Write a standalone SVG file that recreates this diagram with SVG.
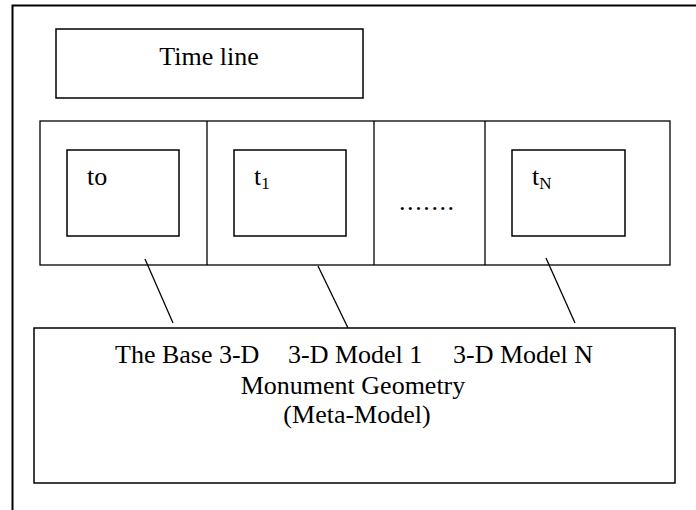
<svg xmlns="http://www.w3.org/2000/svg" width="696" height="510" viewBox="0 0 696 510">
<style>
.box{fill:none;stroke:#000;stroke-width:1.5}
.thin{fill:none;stroke:#000;stroke-width:1.3}
.txt{font-family:"Liberation Serif","Times New Roman",serif;font-size:26px;fill:#000}
.sub{font-size:17px}
.conn line{stroke:#000;stroke-width:1.3}
</style>
<rect width="696" height="510" fill="#fff"/>
<g id="frame"><path d="M12.5 520 V5.5 H700" fill="none" stroke="#000" stroke-width="2"/></g>
<g id="timeline">
<rect class="box" x="56" y="29" width="307" height="69"/>
<text class="txt" x="209" y="65" text-anchor="middle">Time line</text>
</g>
<g id="timerow">
<rect class="thin" x="40" y="121" width="630" height="144"/>
<line class="thin" x1="207" y1="121" x2="207" y2="265"/>
<line class="thin" x1="374" y1="121" x2="374" y2="265"/>
<line class="thin" x1="485" y1="121" x2="485" y2="265"/>
</g>
<g id="t0">
<rect class="box" x="67" y="150" width="112" height="86"/>
<text class="txt" x="87" y="185">to</text>
</g>
<g id="t1">
<rect class="box" x="234" y="150" width="112" height="86"/>
<text class="txt" x="254" y="185">t<tspan class="sub" dy="4">1</tspan></text>
</g>
<g id="dots">
<text class="txt" x="399" y="210" letter-spacing="1.6">.......</text>
</g>
<g id="tN">
<rect class="box" x="512" y="150" width="113" height="86"/>
<text class="txt" x="532" y="185">t<tspan class="sub" dy="4">N</tspan></text>
</g>
<g id="model">
<rect class="box" x="34" y="328" width="641" height="155"/>
<text class="txt"><tspan x="115" y="363">The Base 3-D</tspan><tspan x="288" y="363">3-D Model 1</tspan><tspan x="453" y="363">3-D Model N</tspan></text>
<text class="txt" text-anchor="middle"><tspan x="353" y="394">Monument Geometry</tspan><tspan x="357" y="423">(Meta-Model)</tspan></text>
</g>
<g id="connectors" class="conn">
<line x1="145" y1="259" x2="173" y2="323"/>
<line x1="318" y1="266" x2="348" y2="328"/>
<line x1="546" y1="258" x2="575" y2="323"/>
</g>
</svg>
